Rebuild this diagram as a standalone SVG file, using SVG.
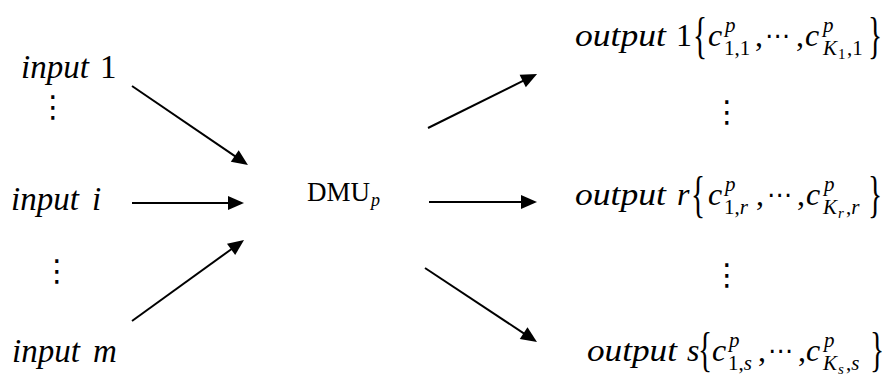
<svg xmlns="http://www.w3.org/2000/svg" width="890" height="379" viewBox="0 0 890 379">
<style>
.m{font-family:"Liberation Serif","Times New Roman",serif;fill:#000}
.it{font-style:italic}
.up{font-style:normal}
.in{font-size:33px}
.out{font-size:32px}
.sb{font-size:21px}
.ss{font-size:15px}
.el{font-family:"DejaVu Sans",sans-serif;font-size:25px}
.br{font-family:"Liberation Serif",serif;font-size:42px}
.dots{font-family:"DejaVu Sans",sans-serif;font-size:30px;text-anchor:middle}
.ar{stroke:#000;stroke-width:2;fill:none;marker-end:url(#ah)}
</style>
<defs>
<marker id="ah" viewBox="0 -7 16 14" markerWidth="16" markerHeight="14" refX="2" refY="0" orient="auto" markerUnits="userSpaceOnUse" overflow="visible">
<path d="M0,-7 L16,0 L0,7 z" fill="#000"/>
</marker>
</defs>
<rect width="890" height="379" fill="#fff"/>

<g id="input1">
<text class="m in it" x="21" y="78">input</text>
<text class="m in up" x="100" y="78">1</text>
</g>
<g id="dots-in-top"><text class="dots" x="53" y="117">⋮</text></g>
<g id="inputi">
<text class="m in it" x="11" y="210">input</text>
<text class="m in it" x="92" y="210">i</text>
</g>
<g id="dots-in-bottom"><text class="dots" x="57" y="281">⋮</text></g>
<g id="inputm">
<text class="m in it" x="12" y="362">input</text>
<text class="m in it" x="93" y="362">m</text>
</g>

<g id="dmu">
<text class="m" x="307" y="201" font-size="27">DMU</text>
<text class="m it" x="371" y="206" font-size="18">p</text>
</g>

<g id="output1">
<text class="m out it" x="575" y="46" textLength="91" lengthAdjust="spacingAndGlyphs">output</text>
<text class="m out up" x="676" y="46">1</text>
<text class="br" transform="translate(693,52) scale(0.7,1.2)">{</text>
<text class="m out it" x="708" y="46">c</text>
<text class="m sb it" x="725" y="32">p</text>
<text class="m sb up" x="724" y="55">1,1</text>
<text class="m out up" x="755" y="46">,</text>
<text class="el" x="765" y="44">⋯</text>
<text class="m out up" x="796" y="46">,</text>
<text class="m out it" x="805" y="46">c</text>
<text class="m sb it" x="823" y="32">p</text>
<text class="m sb it" x="823" y="55">K</text>
<text class="m ss up" x="838" y="59">1</text>
<text class="m sb up" x="847" y="55">,1</text>
<text class="br" transform="translate(868,52) scale(0.7,1.2)">}</text>
</g>
<g id="dots-out-top"><text class="dots" x="727" y="122">⋮</text></g>

<g id="outputr">
<text class="m out it" x="575" y="205" textLength="91" lengthAdjust="spacingAndGlyphs">output</text>
<text class="m out it" x="677" y="205">r</text>
<text class="br" transform="translate(691,211) scale(0.7,1.2)">{</text>
<text class="m out it" x="708" y="205">c</text>
<text class="m sb it" x="725" y="191">p</text>
<text class="m sb up" x="724" y="214">1,<tspan class="it">r</tspan></text>
<text class="m out up" x="756" y="205">,</text>
<text class="el" x="767" y="203">⋯</text>
<text class="m out up" x="797" y="205">,</text>
<text class="m out it" x="806" y="205">c</text>
<text class="m sb it" x="824" y="191">p</text>
<text class="m sb it" x="823" y="214">K</text>
<text class="m ss it" x="838" y="218">r</text>
<text class="m sb up" x="846" y="214">,<tspan class="it">r</tspan></text>
<text class="br" transform="translate(868,211) scale(0.7,1.2)">}</text>
</g>
<g id="dots-out-bottom"><text class="dots" x="727" y="285">⋮</text></g>

<g id="outputs">
<text class="m out it" x="587" y="361" textLength="90" lengthAdjust="spacingAndGlyphs">output</text>
<text class="m out it" x="687" y="361">s</text>
<text class="br" transform="translate(698,366) scale(0.7,1.15)">{</text>
<text class="m out it" x="712" y="361">c</text>
<text class="m sb it" x="729" y="347">p</text>
<text class="m sb up" x="728" y="370">1,<tspan class="it">s</tspan></text>
<text class="m out up" x="758" y="361">,</text>
<text class="el" x="768" y="359">⋯</text>
<text class="m out up" x="798" y="361">,</text>
<text class="m out it" x="806" y="361">c</text>
<text class="m sb it" x="824" y="347">p</text>
<text class="m sb it" x="823" y="370">K</text>
<text class="m ss it" x="838" y="374">s</text>
<text class="m sb up" x="846" y="370">,<tspan class="it">s</tspan></text>
<text class="br" transform="translate(870,366) scale(0.7,1.15)">}</text>
</g>

<g id="connectors">
<line class="ar" x1="132" y1="86" x2="236.4" y2="157.1"/>
<line class="ar" x1="132" y1="203" x2="230" y2="203"/>
<line class="ar" x1="132" y1="321" x2="232.7" y2="248.2"/>
<line class="ar" x1="428" y1="128" x2="524.5" y2="80.2"/>
<line class="ar" x1="429" y1="202" x2="523" y2="202"/>
<line class="ar" x1="425" y1="268" x2="525.3" y2="334.3"/>
</g>
</svg>
